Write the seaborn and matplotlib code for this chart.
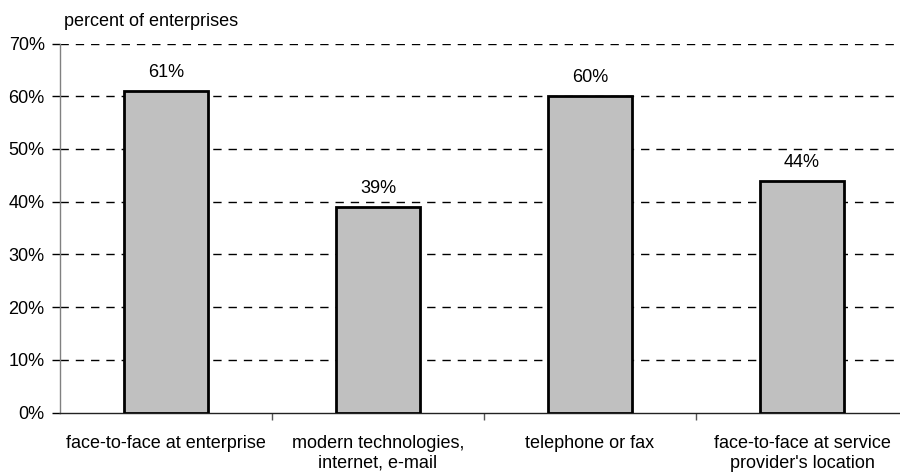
import matplotlib
matplotlib.use("Agg")
import matplotlib.pyplot as plt
import seaborn as sns
import pandas as pd
from matplotlib.ticker import FuncFormatter

categories = ["face-to-face at enterprise", "modern technologies,\ninternet, e-mail",
              "telephone or fax", "face-to-face at service\nprovider's location"]
values = [61, 39, 60, 44]
y_ticks = [0, 10, 20, 30, 40, 50, 60, 70]

sns.set_theme(style="white")
plt.rcParams['font.family'] = ['Liberation Sans', 'DejaVu Sans']
plt.rcParams['text.color'] = 'black'
plt.rcParams['xtick.color'] = 'black'
plt.rcParams['ytick.color'] = 'black'
FS = 13

df = pd.DataFrame({"cat": categories, "val": values})

fig = plt.figure(figsize=(9, 4.75), dpi=100)
ax = fig.add_axes([60/900, 62.5/475, 848/900, 369/475])

sns.barplot(data=df, x="cat", y="val", ax=ax, color="#C0C0C0", width=0.4,
            edgecolor="black", linewidth=2, saturation=1, zorder=3)

ax.set_ylim(0, 70)
ax.set_xlim(-0.5, 3.5)
ax.set_yticks(y_ticks)
ax.yaxis.set_major_formatter(FuncFormatter(lambda v, p: f"{int(v)}%"))
for y in y_ticks[1:]:
    ax.axhline(y, color="black", linestyle=(0, (6, 5)), linewidth=1, zorder=1)

ax.set_xticks([0.5, 1.5, 2.5], minor=True)
ax.set_xticks(range(len(categories)))
ax.set_xticklabels(categories, fontsize=FS, linespacing=1.22, color="black")
ax.tick_params(axis="x", which="major", length=0, pad=16)
ax.tick_params(axis="x", which="minor", length=5, width=1, color="#555555", direction="out", bottom=True)
ax.tick_params(axis="y", length=6, width=1, color="black", direction="out", left=True, labelsize=FS, pad=5, labelcolor="black")

for s in ["top", "right"]:
    ax.spines[s].set_visible(False)
ax.spines["left"].set_color("#808080")
ax.spines["left"].set_linewidth(1)
ax.spines["bottom"].set_color("#222222")
ax.spines["bottom"].set_linewidth(1)
ax.set_xlabel("")
ax.set_ylabel("")

for i, v in enumerate(values):
    ax.annotate(f"{v}%", (i, v), xytext=(0, 7), textcoords="offset points",
                ha="center", va="bottom", fontsize=FS, color="black")

fig.text(64/900, 1 - 22/475, "percent of enterprises", fontsize=FS, ha="left", va="center", color="black")

fig.savefig("out.png", dpi=100)
